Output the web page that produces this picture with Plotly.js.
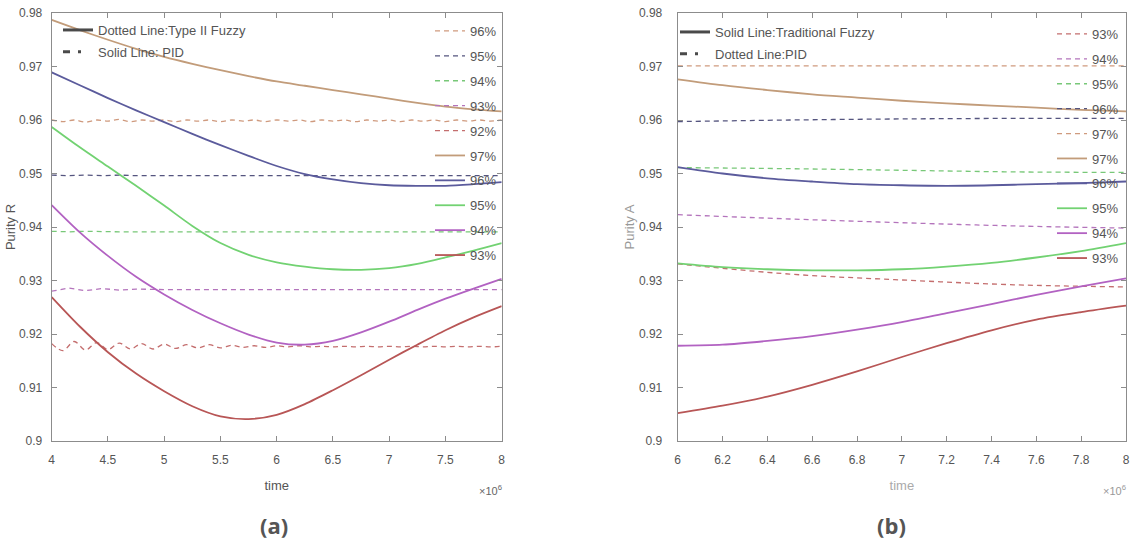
<!DOCTYPE html>
<html><head><meta charset="utf-8">
<script src="https://cdn.plot.ly/plotly-3.0.1.min.js"></script>
<style>html,body{margin:0;padding:0;background:#fff}#chart{width:1131px;height:546px}</style>
</head><body><div id="chart"></div>
<script>
// ---------- Panel (a) data ----------
const timeA = [4, 4.25, 4.5, 4.75, 5, 5.25, 5.5, 5.75, 6, 6.25, 6.5, 6.75, 7, 7.25, 7.5, 7.75, 8];
const fuzzyA97 = [0.9787, 0.9768, 0.9750, 0.9733, 0.9718, 0.9705, 0.9693, 0.9682, 0.9672, 0.9664, 0.9656, 0.9648, 0.9640, 0.9632, 0.9625, 0.9620, 0.9616];
const fuzzyA96 = [0.9689, 0.9665, 0.9641, 0.9618, 0.9596, 0.9574, 0.9553, 0.9533, 0.9514, 0.9499, 0.9489, 0.9482, 0.9478, 0.9477, 0.9477, 0.9480, 0.9484];
const fuzzyA95 = [0.9587, 0.9549, 0.9513, 0.9477, 0.9440, 0.9402, 0.9370, 0.9348, 0.9334, 0.9326, 0.9321, 0.9320, 0.9323, 0.9331, 0.9343, 0.9356, 0.9370];
const fuzzyA94 = [0.9441, 0.9390, 0.9346, 0.9307, 0.9274, 0.9245, 0.9220, 0.9199, 0.9184, 0.9180, 0.9187, 0.9203, 0.9223, 0.9245, 0.9266, 0.9285, 0.9303];
const fuzzyA93 = [0.9269, 0.9214, 0.9166, 0.9126, 0.9093, 0.9065, 0.9046, 0.9041, 0.9049, 0.9069, 0.9095, 0.9123, 0.9152, 0.9180, 0.9207, 0.9231, 0.9252];

const timeWave = [4.0,4.1,4.2,4.3,4.4,4.5,4.6,4.7,4.8,4.9,5.0,5.1,5.2,5.3,5.4,5.5,5.6,5.7,5.8,5.9,6.0,
                  6.1,6.2,6.3,6.4,6.5,6.6,6.7,6.8,6.9,7.0,7.1,7.2,7.3,7.4,7.5,7.6,7.7,7.8,7.9,8.0];
const pidA96 = [0.9600,0.9597,0.9600,0.9596,0.9600,0.9598,0.9601,0.9597,0.9600,0.9598,0.9600,0.9597,0.9600,0.9598,0.9600,0.9597,0.9600,0.9598,0.9600,0.9597,0.9600,
                0.9598,0.9600,0.9597,0.9600,0.9598,0.9600,0.9597,0.9600,0.9598,0.9600,0.9597,0.9600,0.9598,0.9600,0.9597,0.9600,0.9598,0.9600,0.9598,0.9600];
const pidA92 = [0.9182,0.9169,0.9186,0.9170,0.9184,0.9171,0.9183,0.9172,0.9182,0.9172,0.9181,0.9173,0.9180,0.9174,0.9180,0.9174,0.9179,0.9175,0.9178,0.9175,0.9178,
                0.9176,0.9178,0.9176,0.9177,0.9176,0.9177,0.9176,0.9177,0.9176,0.9177,0.9176,0.9177,0.9176,0.9177,0.9176,0.9177,0.9176,0.9177,0.9176,0.9177];
const timeFlatA = [4.0, 4.15, 4.3, 4.45, 4.6, 4.75, 5.0, 6.0, 7.0, 8.0];
const pidA95 = [0.9497, 0.9496, 0.9497, 0.9496, 0.9497, 0.9496, 0.9496, 0.9496, 0.9496, 0.9496];
const pidA94 = [0.9392, 0.9391, 0.9392, 0.9391, 0.9391, 0.9391, 0.9391, 0.9391, 0.9391, 0.9391];
const pidA93 = [0.9280, 0.9286, 0.9281, 0.9285, 0.9282, 0.9284, 0.9283, 0.9283, 0.9283, 0.9283];

// ---------- Panel (b) data ----------
const timeB = [6, 6.2, 6.4, 6.6, 6.8, 7, 7.2, 7.4, 7.6, 7.8, 8];
const fuzzyB97 = [0.9676, 0.9665, 0.9656, 0.9648, 0.9642, 0.9636, 0.9631, 0.9627, 0.9623, 0.9619, 0.9616];
const fuzzyB96 = [0.9512, 0.9500, 0.9491, 0.9485, 0.9480, 0.9478, 0.9477, 0.9478, 0.9480, 0.9482, 0.9485];
const fuzzyB95 = [0.9332, 0.9325, 0.9321, 0.9319, 0.9319, 0.9321, 0.9326, 0.9333, 0.9343, 0.9355, 0.9370];
const fuzzyB94 = [0.9178, 0.9180, 0.9187, 0.9196, 0.9208, 0.9222, 0.9239, 0.9256, 0.9273, 0.9289, 0.9304];
const fuzzyB93 = [0.9052, 0.9066, 0.9083, 0.9105, 0.9130, 0.9157, 0.9183, 0.9207, 0.9227, 0.9241, 0.9253];

const timePidB = [6, 6.5, 7, 7.5, 8];
const pidB97 = [0.9701, 0.9701, 0.9701, 0.9701, 0.9701];
const pidB96 = [0.9597, 0.9600, 0.9602, 0.9603, 0.9603];
const pidB95 = [0.9511, 0.9509, 0.9506, 0.9503, 0.9502];
const pidB94 = [0.9423, 0.9415, 0.9408, 0.9402, 0.9398];
const pidB93 = [0.9331, 0.9312, 0.9301, 0.9292, 0.9288];

const legendLabelsA = ['96%','95%','94%','93%','92%','97%','96%','95%','94%','93%'];
const legendLabelsB = ['93%','94%','95%','96%','97%','97%','96%','95%','94%','93%'];

// ---------- styling ----------
const FONT = '"Liberation Sans", Arial, sans-serif';
const C = {
  brown: '#c29c7a', blue: '#5b5b9c', green: '#72d272', purple: '#b262c2', red: '#b85656',
  dOrange: '#cf9a7e', dBlue: '#55557f', dGreen: '#78c878', dPurple: '#b474bc', dRed: '#c46e6e'
};
const DASH = '5px,4px';

function solid(x, y, name, color, xa, ya, leg, g) {
  return {x, y, name, type: 'scatter', mode: 'lines', xaxis: xa, yaxis: ya, legend: leg, legendgroup: g,
          line: {color, width: 1.8, shape: 'spline', smoothing: 0.8}};
}
function dashed(x, y, name, color, xa, ya, leg, g, shape) {
  return {x, y, name, type: 'scatter', mode: 'lines', xaxis: xa, yaxis: ya, legend: leg, legendgroup: g,
          line: {color, width: 1.3, dash: DASH, shape: shape || 'linear'}};
}

const traces = [
  dashed(timeWave, pidA96, legendLabelsA[0], C.dOrange, 'x', 'y', 'legend', 'a1', 'spline'),
  dashed(timeFlatA, pidA95, legendLabelsA[1], C.dBlue, 'x', 'y', 'legend', 'a2'),
  dashed(timeFlatA, pidA94, legendLabelsA[2], C.dGreen, 'x', 'y', 'legend', 'a3'),
  dashed(timeFlatA, pidA93, legendLabelsA[3], C.dPurple, 'x', 'y', 'legend', 'a4'),
  dashed(timeWave, pidA92, legendLabelsA[4], C.dRed, 'x', 'y', 'legend', 'a5', 'spline'),
  solid(timeA, fuzzyA97, legendLabelsA[5], C.brown, 'x', 'y', 'legend', 'a6'),
  solid(timeA, fuzzyA96, legendLabelsA[6], C.blue, 'x', 'y', 'legend', 'a7'),
  solid(timeA, fuzzyA95, legendLabelsA[7], C.green, 'x', 'y', 'legend', 'a8'),
  solid(timeA, fuzzyA94, legendLabelsA[8], C.purple, 'x', 'y', 'legend', 'a9'),
  solid(timeA, fuzzyA93, legendLabelsA[9], C.red, 'x', 'y', 'legend', 'a10'),

  dashed(timePidB, pidB93, legendLabelsB[0], C.dRed, 'x2', 'y2', 'legend2', 'b1', 'spline'),
  dashed(timePidB, pidB94, legendLabelsB[1], C.dPurple, 'x2', 'y2', 'legend2', 'b2', 'spline'),
  dashed(timePidB, pidB95, legendLabelsB[2], C.dGreen, 'x2', 'y2', 'legend2', 'b3', 'spline'),
  dashed(timePidB, pidB96, legendLabelsB[3], C.dBlue, 'x2', 'y2', 'legend2', 'b4', 'spline'),
  dashed(timePidB, pidB97, legendLabelsB[4], C.dOrange, 'x2', 'y2', 'legend2', 'b5', 'spline'),
  solid(timeB, fuzzyB97, legendLabelsB[5], C.brown, 'x2', 'y2', 'legend2', 'b6'),
  solid(timeB, fuzzyB96, legendLabelsB[6], C.blue, 'x2', 'y2', 'legend2', 'b7'),
  solid(timeB, fuzzyB95, legendLabelsB[7], C.green, 'x2', 'y2', 'legend2', 'b8'),
  solid(timeB, fuzzyB94, legendLabelsB[8], C.purple, 'x2', 'y2', 'legend2', 'b9'),
  solid(timeB, fuzzyB93, legendLabelsB[9], C.red, 'x2', 'y2', 'legend2', 'b10'),

  // line-style keys (no data)
  {x: [null], y: [null], name: 'Dotted Line:Type II Fuzzy', type: 'scatter', mode: 'lines', xaxis: 'x', yaxis: 'y',
   legend: 'legend3', legendgroup: 'k1', line: {color: '#4a4a4a', width: 3}},
  {x: [null], y: [null], name: 'Solid Line: PID', type: 'scatter', mode: 'lines', xaxis: 'x', yaxis: 'y',
   legend: 'legend3', legendgroup: 'k2', line: {color: '#4a4a4a', width: 3, dash: '7px,8px,3px,20px'}},
  {x: [null], y: [null], name: 'Solid Line:Traditional Fuzzy', type: 'scatter', mode: 'lines', xaxis: 'x2', yaxis: 'y2',
   legend: 'legend4', legendgroup: 'k3', line: {color: '#4a4a4a', width: 3}},
  {x: [null], y: [null], name: 'Dotted Line:PID', type: 'scatter', mode: 'lines', xaxis: 'x2', yaxis: 'y2',
   legend: 'legend4', legendgroup: 'k4', line: {color: '#4a4a4a', width: 3, dash: '7px,8px,3px,20px'}}
];

const W = 1131, H = 546;
const axisCommon = {
  showline: true, linecolor: '#8c8c8c', linewidth: 1, mirror: 'ticks', ticks: 'inside', ticklen: 5,
  tickcolor: '#8c8c8c', showgrid: false, zeroline: false,
  tickfont: {family: FONT, size: 12, color: '#555'}
};
const yDomain = [1 - 441 / H, 1 - 13 / H];
const legendCommon = {
  bgcolor: 'rgba(0,0,0,0)', borderwidth: 0, xanchor: 'left', yanchor: 'top',
  traceorder: 'grouped', itemclick: false, itemdoubleclick: false
};

const layout = {
  width: W, height: H, margin: {l: 0, r: 0, t: 0, b: 0},
  paper_bgcolor: '#fff', plot_bgcolor: '#fff', showlegend: true,
  font: {family: FONT, color: '#555'},
  xaxis: Object.assign({}, axisCommon, {domain: [51.7 / W, 501.7 / W], range: [4, 8], tick0: 4, dtick: 0.5, anchor: 'y',
    ticklabelstandoff: 8,
    title: {text: 'time', font: {family: FONT, size: 13, color: '#555'}, standoff: 14}}),
  yaxis: Object.assign({}, axisCommon, {domain: yDomain, range: [0.9, 0.98], dtick: 0.01, anchor: 'x',
    ticklabelstandoff: 6,
    title: {text: 'Purity R', font: {family: FONT, size: 13, color: '#555'}, standoff: 0}}),
  xaxis2: Object.assign({}, axisCommon, {domain: [677.7 / W, 1126 / W], range: [6, 8], tick0: 6, dtick: 0.2, anchor: 'y2',
    ticklabelstandoff: 8,
    title: {text: 'time', font: {family: FONT, size: 13, color: '#aaa'}, standoff: 14}}),
  yaxis2: Object.assign({}, axisCommon, {domain: yDomain, range: [0.9, 0.98], dtick: 0.01, anchor: 'x2',
    ticklabelstandoff: 12,
    title: {text: 'Purity A', font: {family: FONT, size: 13, color: '#999'}, standoff: 1}}),
  legend: Object.assign({}, legendCommon, {x: 430 / W, y: 1 - 16 / H, tracegroupgap: 5,
    font: {family: FONT, size: 13, color: '#555'}}),
  legend2: Object.assign({}, legendCommon, {x: 1052 / W, y: 1 - 19 / H, tracegroupgap: 5,
    font: {family: FONT, size: 13, color: '#555'}}),
  legend3: Object.assign({}, legendCommon, {x: 58 / W, y: 1 - 15 / H, tracegroupgap: 2,
    font: {family: FONT, size: 13, color: '#555'}}),
  legend4: Object.assign({}, legendCommon, {x: 675 / W, y: 1 - 17 / H, tracegroupgap: 2,
    font: {family: FONT, size: 13, color: '#555'}}),
  annotations: [
    {text: '×10<sup>6</sup>', xref: 'paper', yref: 'paper', x: 491 / W, y: 1 - 490 / H, xanchor: 'center', yanchor: 'middle',
     showarrow: false, font: {family: FONT, size: 11, color: '#666'}},
    {text: '×10<sup>6</sup>', xref: 'paper', yref: 'paper', x: 1114 / W, y: 1 - 490 / H, xanchor: 'center', yanchor: 'middle',
     showarrow: false, font: {family: FONT, size: 11, color: '#999'}},
    {text: '<b>(a)</b>', xref: 'paper', yref: 'paper', x: 274 / W, y: 1 - 525 / H, xanchor: 'center', yanchor: 'middle',
     showarrow: false, font: {family: '"Open Sans", sans-serif', size: 22, color: '#555'}},
    {text: '<b>(b)</b>', xref: 'paper', yref: 'paper', x: 891 / W, y: 1 - 525 / H, xanchor: 'center', yanchor: 'middle',
     showarrow: false, font: {family: '"Open Sans", sans-serif', size: 22, color: '#555'}}
  ]
};

Plotly.newPlot('chart', traces, layout, {staticPlot: true, displayModeBar: false});
</script>
</body></html>
